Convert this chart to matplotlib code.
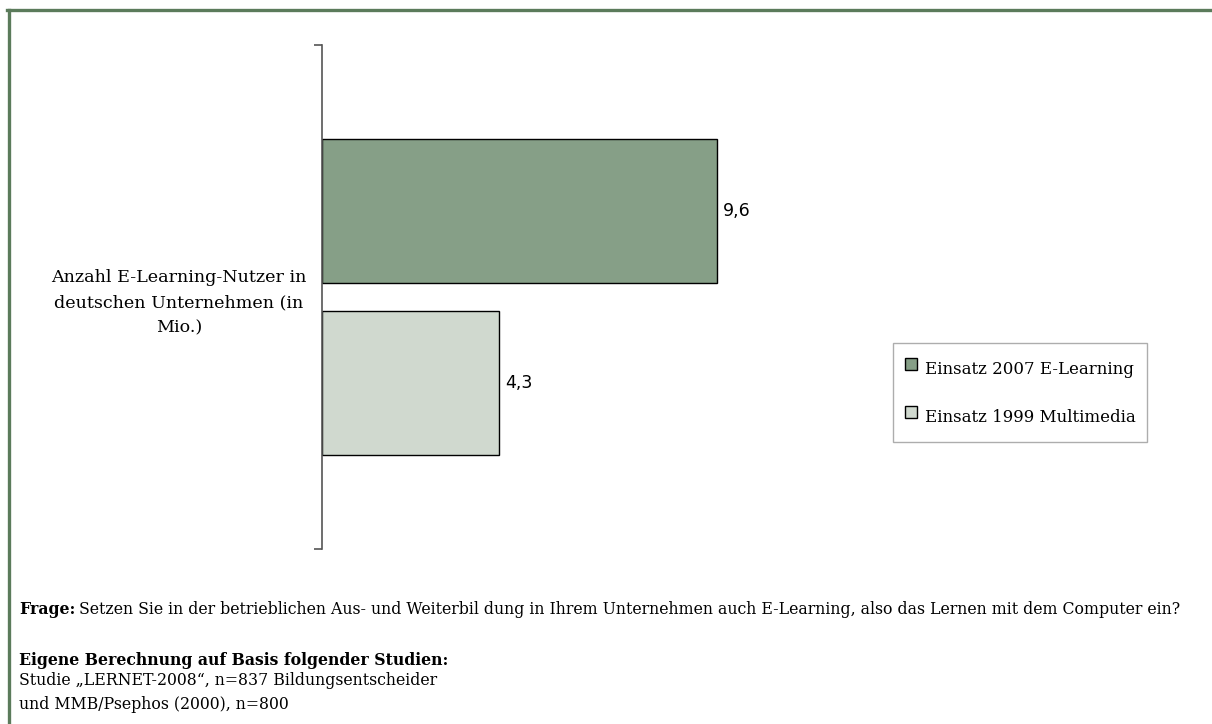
import matplotlib
matplotlib.use("Agg")
import matplotlib.pyplot as plt
from matplotlib.lines import Line2D

# ---- data ----
category = "Anzahl E-Learning-Nutzer in\ndeutschen Unternehmen (in\nMio.)"
series_names = ["Einsatz 2007 E-Learning", "Einsatz 1999 Multimedia"]
series_values = [9.6, 4.3]
value_labels = ["9,6", "4,3"]
series_colors = ["#869f87", "#d0d9cf"]

W, H = 1212, 724
fig = plt.figure(figsize=(W / 100, H / 100), dpi=100)
fig.patch.set_facecolor("white")

serif = "DejaVu Serif"

# axes placement in pixels
ax_left, ax_top, ax_bottom, ax_w = 322, 45, 549, 560
ax = fig.add_axes([ax_left / W, 1 - ax_bottom / H, ax_w / W, (ax_bottom - ax_top) / H])

px_per_unit = 41.1
ax.set_xlim(0, ax_w / px_per_unit)
ax.set_ylim(-1.75, 1.75)

ypos = [0.6, -0.6]
for y, v, c, lab, name in zip(ypos, series_values, series_colors, value_labels, series_names):
    ax.barh(y, v, height=1.0, color=c, edgecolor="black", linewidth=1.0, label=name)
    ax.text(v + 0.15, y, lab, va="center", ha="left", fontsize=12.5, family="DejaVu Sans", color="black")

for s in ["top", "right", "bottom"]:
    ax.spines[s].set_visible(False)
ax.spines["left"].set_color("#555555")
ax.spines["left"].set_linewidth(1.2)
ax.set_xticks([])
ax.set_yticks([0])
ax.set_yticklabels([category], fontsize=12.6, family=serif, multialignment="center",
                   linespacing=1.62)
ax.tick_params(axis="y", which="major", length=0, pad=11)
ax.set_yticks([-1.75, 1.75], minor=True)
ax.tick_params(axis="y", which="minor", length=6, width=1.2, color="#555555")

handles = [Line2D([], [], linestyle="none", marker="s", markersize=9.3,
                  markerfacecolor=c, markeredgecolor="black", markeredgewidth=1.0)
           for c in series_colors]
leg = fig.legend(handles, series_names, loc="upper left",
                 bbox_to_anchor=(893 / W, 1 - 343 / H),
                 prop={"family": serif, "size": 12.0}, numpoints=1,
                 frameon=True, fancybox=False, edgecolor="#999999",
                 handlelength=0.8, handleheight=2.2, handletextpad=0.4,
                 labelspacing=1.2, borderpad=0.7, borderaxespad=0)
leg.get_frame().set_linewidth(1.0)

# footer texts
fs = 11.3
t1 = fig.text(19 / W, 1 - 614 / H, "Frage:", fontsize=fs, family=serif, fontweight="bold", va="baseline")
fig.canvas.draw()
r = fig.canvas.get_renderer()
bb = t1.get_window_extent(r)
fig.text((bb.x1 + 4) / W, 1 - 614 / H,
         "Setzen Sie in der betrieblichen Aus- und Weiterbil dung in Ihrem Unternehmen auch E-Learning, also das Lernen mit dem Computer ein?",
         fontsize=fs, family=serif, va="baseline")
fig.text(19 / W, 1 - 665 / H, "Eigene Berechnung auf Basis folgender Studien:",
         fontsize=fs, family=serif, fontweight="bold", va="baseline")
fig.text(19 / W, 1 - 685 / H, "Studie „LERNET-2008“, n=837 Bildungsentscheider",
         fontsize=fs, family=serif, va="baseline")
fig.text(19 / W, 1 - 709 / H, "und MMB/Psephos (2000), n=800",
         fontsize=fs, family=serif, va="baseline")

# green frame (left and top)
bc = "#5b7b5b"
fig.add_artist(Line2D([8.5 / W, 8.5 / W], [0, 1 - 9.5 / H], color=bc, linewidth=2.4, transform=fig.transFigure))
fig.add_artist(Line2D([7.3 / W, 1], [1 - 9.5 / H, 1 - 9.5 / H], color=bc, linewidth=2.4, transform=fig.transFigure))

fig.savefig("out.png", dpi=100, facecolor="white")
